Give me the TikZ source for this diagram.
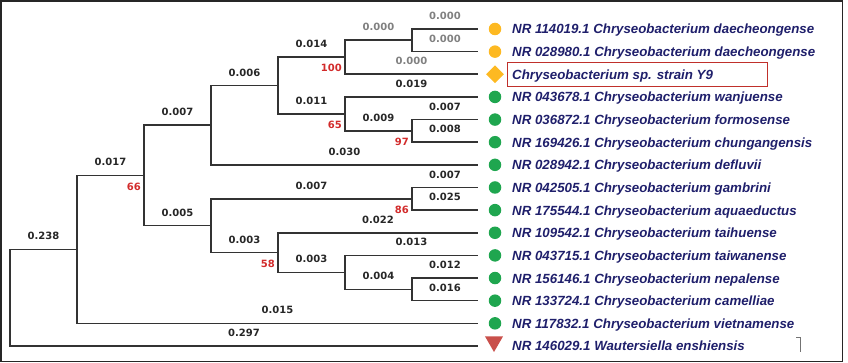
\documentclass[tikz,border=0pt]{standalone}
\usepackage{fontspec}
\usepackage{tikz}
\usetikzlibrary{shapes.geometric}
\newfontfamily\numfont{DejaVu Sans}
\newfontfamily\leaffont{Liberation Sans}
\definecolor{treeline}{HTML}{333333}
\definecolor{zerogray}{HTML}{808080}
\definecolor{bootred}{HTML}{D22B2B}
\definecolor{taxonblue}{HTML}{1F1F6B}
\definecolor{tipyellow}{HTML}{FDB922}
\definecolor{tipgreen}{HTML}{1FA64F}
\definecolor{tipred}{HTML}{C9504B}
\definecolor{boxred}{HTML}{C0302B}
\tikzset{branch/.style={draw=treeline, line width=1.6pt}}
\tikzset{blen/.style={font=\numfont\bfseries\fontsize{10}{12}\selectfont, text=black!85, above=8.5pt, inner sep=0pt}}
\tikzset{zero/.style={blen, text=zerogray}}
\tikzset{boot/.style={font=\numfont\bfseries\fontsize{10}{12}\selectfont, text=bootred, anchor=north east, inner sep=0pt, xshift=-3pt, yshift=-7pt}}
\tikzset{taxon/.style={font=\leaffont\bfseries\itshape\fontsize{13.3}{16}\selectfont, text=taxonblue, anchor=base west, inner sep=0pt}}
\tikzset{tipdot/.style={circle, fill=#1, inner sep=0pt, minimum size=12.5pt}}

\begin{document}
\begin{tikzpicture}[x=1pt, y=-1pt]
  \useasboundingbox (0,0) rectangle (848,363);
  \draw[line width=1.8pt, draw=black!85] (1,1) rectangle (842.5,361.5);
  % tips and inner nodes
  \foreach \i in {1,...,15} {
    \coordinate (l\i) at (478, {29+22.64*(\i-1)});
  }
  \coordinate (root) at (10, 297.7);
  \coordinate (ca) at (77, 249.4);
  \coordinate (cb) at (144, 175.4);
  \coordinate (cc) at (211, 125.2);
  \coordinate (cd) at (278, 85.6);
  \coordinate (ce) at (345, 57.3);
  \coordinate (cp) at (412, 40.3);
  \coordinate (cf) at (345, 113.9);
  \coordinate (cg) at (412, 130.9);
  \coordinate (ch) at (211, 225.7);
  \coordinate (ci) at (412, 198.8);
  \coordinate (cj) at (278, 252.6);
  \coordinate (ck) at (345, 272.4);
  \coordinate (cl) at (412, 289.4);
  % branches
  \foreach \u/\v/\w in {root/ca/0.238, root/l15/0.297, ca/cb/0.017, ca/l14/0.015,
      cb/cc/0.007, cb/ch/0.005, cc/cd/0.006, cc/l7/0.030, cd/ce/0.014, cd/cf/0.011,
      cf/l4/0.019, cf/cg/0.009, cg/l5/0.007, cg/l6/0.008, ch/ci/0.007, ch/cj/0.003,
      ci/l8/0.007, ci/l9/0.025, cj/l10/0.022, cj/ck/0.003, ck/l11/0.013, ck/cl/0.004,
      cl/l12/0.012, cl/l13/0.016} {
    \draw[branch] (\u) |- (\v) node[pos=0.75, blen] {\w};
  }
  \foreach \u/\v in {ce/cp, ce/l3, cp/l1, cp/l2} {
    \draw[branch] (\u) |- (\v) node[pos=0.75, zero] {0.000};
  }
  % bootstrap values
  \node[boot] (bse) at (ce) {100};
  \node[boot] (bsf) at (cf) {65};
  \node[boot] (bsg) at (cg) {97};
  \node[boot] (bsb) at (cb) {66};
  \node[boot] (bsi) at (ci) {86};
  \node[boot] (bsj) at (cj) {58};
  % tip markers
  \foreach \i in {1,2} {
    \node[tipdot=tipyellow] (m\i) at (495, {29+22.64*(\i-1)}) {};
  }
  \node[diamond, fill=tipyellow, inner sep=0pt, minimum size=18pt] (m3) at (495, 74.3) {};
  \foreach \i in {4,...,14} {
    \node[tipdot=tipgreen] (m\i) at (495, {29+22.64*(\i-1)}) {};
  }
  \node[regular polygon, regular polygon sides=3, shape border rotate=180, fill=tipred,
    inner sep=0pt, minimum size=21pt] (m15) at (494, 341.5) {};
  % taxa
  \foreach \i/\t in {1/NR 114019.1 Chryseobacterium daecheongense,
      2/NR 028980.1 Chryseobacterium daecheongense,
      3/Chryseobacterium sp. strain Y9,
      4/NR 043678.1 Chryseobacterium wanjuense,
      5/NR 036872.1 Chryseobacterium formosense,
      6/NR 169426.1 Chryseobacterium chungangensis,
      7/NR 028942.1 Chryseobacterium defluvii,
      8/NR 042505.1 Chryseobacterium gambrini,
      9/NR 175544.1 Chryseobacterium aquaeductus,
      10/NR 109542.1 Chryseobacterium taihuense,
      11/NR 043715.1 Chryseobacterium taiwanense,
      12/NR 156146.1 Chryseobacterium nepalense,
      13/NR 133724.1 Chryseobacterium camelliae,
      14/NR 117832.1 Chryseobacterium vietnamense,
      15/NR 146029.1 Wautersiella enshiensis} {
    \node[taxon] (t\i) at (512, {29+22.64*(\i-1)+5}) {\t};
  }
  \node[draw=boxred, line width=1.4pt, minimum width=260pt, minimum height=24pt,
    anchor=west, inner sep=0pt] (y9box) at (507, 74.3) {};
  \draw[black!55, line width=0.6pt] (796,337) -- (800.5,337) -- (800.5,352);
\end{tikzpicture}
\end{document}
